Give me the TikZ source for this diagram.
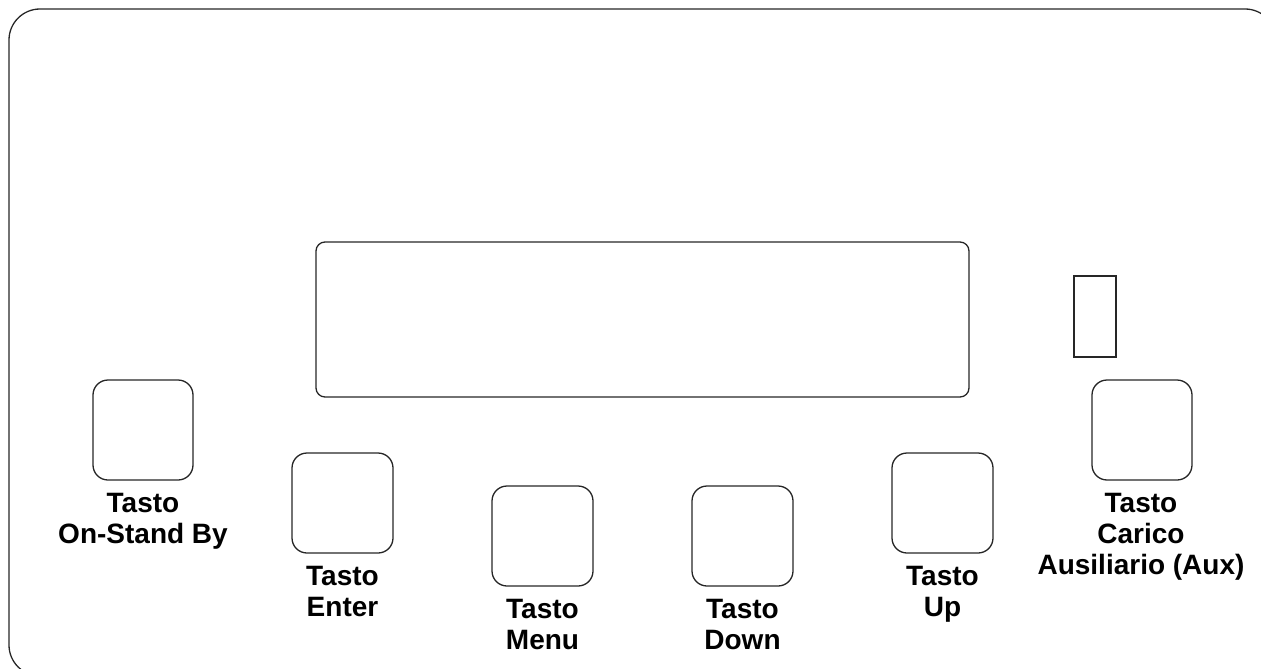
\documentclass[tikz,border=0pt]{standalone}
\usepackage{fontspec}
\setmainfont{Liberation Sans}
\begin{document}
\begin{tikzpicture}[x=1pt,y=-1pt,
  edge/.style={draw=black!85,line width=1.3pt},
  keybox/.style={edge,rounded corners=15pt},
  keylabel/.style={anchor=north,inner sep=0pt,align=center,
    font=\fontsize{28}{31}\selectfont\bfseries}]
\useasboundingbox (0,0) rectangle (1261,669);
\clip (0,0) rectangle (1261,669);
\draw[edge,rounded corners=31pt] (9,9) rectangle (1276,676);
% display
\draw[edge,rounded corners=9pt] (316,242) rectangle (969,397);
% small indicator
\draw[edge,line width=1.1pt] (1074,276) rectangle (1116,357);
% keys
\draw[keybox] (93,380) rectangle (193,480);
\coordinate (k1) at (143,493);
\draw[keybox] (292,453) rectangle (393,553);
\coordinate (k2) at (342.5,566);
\draw[keybox] (492,486) rectangle (593,586);
\coordinate (k3) at (542.5,599);
\draw[keybox] (692,486) rectangle (793,586);
\coordinate (k4) at (742.5,599);
\draw[keybox] (892,453) rectangle (993,553);
\coordinate (k5) at (942.5,566);
\draw[keybox] (1092,380) rectangle (1192,480);
\coordinate (k6) at (1141,493);
\node[keylabel] (l1) at (k1) {Tasto\\On-Stand By};
\node[keylabel] (l2) at (k2) {Tasto\\Enter};
\node[keylabel] (l3) at (k3) {Tasto\\Menu};
\node[keylabel] (l4) at (k4) {Tasto\\Down};
\node[keylabel] (l5) at (k5) {Tasto\\Up};
\node[keylabel] (l6) at (k6) {Tasto\\Carico\\Ausiliario (Aux)};
\end{tikzpicture}
\end{document}
